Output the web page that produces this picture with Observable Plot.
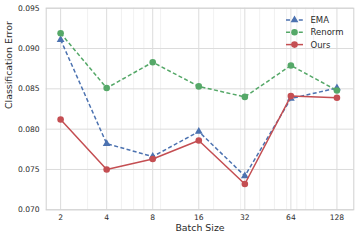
<!DOCTYPE html>
<html>
<head>
<meta charset="utf-8">
<script src="https://cdn.jsdelivr.net/npm/d3@7"></script>
<script src="https://cdn.jsdelivr.net/npm/@observablehq/plot@0.6"></script>
<style>
  html, body { margin: 0; padding: 0; background: #fff; }
  #wrap { position: relative; width: 357px; height: 240px; }
  #legend { position: absolute; left: 0; top: 0; pointer-events: none; }
</style>
</head>
<body>
<div id="wrap"></div>
<script>
const batchSizes = [2, 4, 8, 16, 32, 64, 128];
const emaValues    = [0.0911, 0.0782, 0.0766, 0.0797, 0.0742, 0.0838, 0.0851];
const renormValues = [0.0919, 0.0851, 0.0883, 0.0853, 0.0840, 0.0879, 0.0848];
const oursValues   = [0.0812, 0.0750, 0.0763, 0.0786, 0.0732, 0.0841, 0.0839];
const seriesNames = ["EMA", "Renorm", "Ours"];
const yTicks = [0.070, 0.075, 0.080, 0.085, 0.090, 0.095];
const minorTicks = [3, 5, 6, 7, 9, 20, 30, 40, 50, 60, 70, 80, 90];
const xLabel = "Batch Size";
const yLabel = "Classification Error";

const colors = {EMA: "#4c72b0", Renorm: "#55a868", Ours: "#c44e52"};
const dashes = {EMA: "4,2.4", Renorm: "4,2.4", Ours: null};
const symbols = {EMA: "triangle", Renorm: "circle", Ours: "circle"};
const radii = {EMA: 2.9, Renorm: 3.3, Ours: 3.3};
const valuesBy = {EMA: emaValues, Renorm: renormValues, Ours: oursValues};

const rows = seriesNames.map(name => batchSizes.map((b, i) => ({series: name, batch: b, value: valuesBy[name][i]})));

const font = "DejaVu Sans, sans-serif";
const textColor = "#2b2b2b";

const marks = [
  Plot.ruleX(minorTicks, {stroke: "#ededed", strokeWidth: 0.8}),
  Plot.ruleX(batchSizes, {stroke: "#dcdcdc", strokeWidth: 1}),
  Plot.ruleY(yTicks, {stroke: "#dcdcdc", strokeWidth: 1}),
  Plot.frame({stroke: "#d0d0d0", strokeWidth: 1}),
  Plot.text(batchSizes, {x: d => d, text: d => String(d), frameAnchor: "bottom", dy: 10,
    fontSize: 7.6, fill: textColor}),
  Plot.text(yTicks, {y: d => d, text: d3.format(".3f"), frameAnchor: "left", textAnchor: "end", dx: -6.5,
    fontSize: 7.6, fill: textColor}),
  Plot.text([xLabel], {text: d => d, frameAnchor: "bottom", dy: 21.4, fontSize: 9.4, fill: textColor}),
  Plot.text([yLabel], {text: d => d, frameAnchor: "left", rotate: -90, dx: -37.5, fontSize: 9.4, fill: textColor})
];
for (const r of rows) {
  const name = r[0].series;
  marks.push(Plot.line(r, {x: "batch", y: "value", stroke: colors[name], strokeWidth: 1.5,
    strokeDasharray: dashes[name] || undefined, strokeLinecap: "butt", strokeLinejoin: "round"}));
  marks.push(Plot.dot(r, {x: "batch", y: "value", fill: colors[name], stroke: "none",
    symbol: symbols[name], r: radii[name]}));
}

const chart = Plot.plot({
  width: 357,
  height: 240,
  marginLeft: 45.7,
  marginRight: 3.7,
  marginTop: 7.7,
  marginBottom: 30.7,
  style: {fontFamily: font, fontSize: "8.5px", color: textColor, background: "#fff", overflow: "visible"},
  x: {type: "log", domain: [1.61, 165], axis: null},
  y: {domain: [0.070, 0.095], axis: null},
  marks
});
document.getElementById("wrap").appendChild(chart);

// legend overlay
const lg = d3.select("#wrap").append("svg").attr("id", "legend")
  .attr("width", 357).attr("height", 240);
seriesNames.forEach((name, i) => {
  const y = 20 + i * 12.3;
  const g = lg.append("g");
  g.append("line").attr("x1", 286).attr("x2", 303).attr("y1", y).attr("y2", y)
    .attr("stroke", colors[name]).attr("stroke-width", 1.5)
    .attr("stroke-dasharray", dashes[name] || null);
  const sym = symbols[name] === "triangle" ? d3.symbolTriangle : d3.symbolCircle;
  g.append("path").attr("d", d3.symbol(sym, Math.PI * radii[name] * radii[name])())
    .attr("transform", `translate(294.5,${y})`).attr("fill", colors[name]);
  g.append("text").attr("x", 310.5).attr("y", y).attr("dy", "0.35em")
    .attr("font-family", font).attr("font-size", 8.5).attr("fill", textColor).text(name);
});
</script>
</body>
</html>
